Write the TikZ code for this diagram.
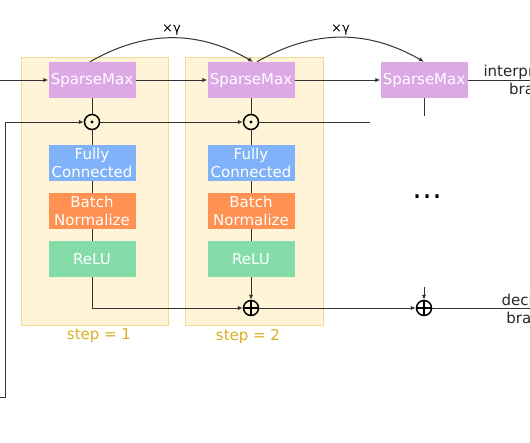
\documentclass[tikz,border=0pt]{standalone}
\usepackage{fontspec}
\setmainfont{DejaVu Sans}
\usepackage{tikz}
\usetikzlibrary{arrows.meta,backgrounds,positioning,fit}
\definecolor{sparsefill}{HTML}{DDA8E6}
\definecolor{fcfill}{HTML}{7FB2F8}
\definecolor{bnfill}{HTML}{FF9152}
\definecolor{relufill}{HTML}{84DDA9}
\definecolor{stepfill}{HTML}{FFF4D8}
\definecolor{stepdraw}{HTML}{F3DB95}
\definecolor{steptext}{HTML}{D9AE22}
\tikzset{block node/.style={rectangle, fill=#1, text=white, minimum width=87pt,
    minimum height=36pt, inner sep=0pt, align=center, font=\fontsize{15}{18}\selectfont}}
\tikzset{op node/.style={circle, draw=black, line width=1.5pt, minimum size=15pt, inner sep=0pt}}
\tikzset{prod node/.style={op node, path picture={\fill (path picture bounding box.center) circle (1.6pt);}}}
\tikzset{sum node/.style={op node, path picture={\draw [line width=1.5pt]
      (path picture bounding box.west) -- (path picture bounding box.east)
      (path picture bounding box.north) -- (path picture bounding box.south);}}}
\tikzset{regular edge/.style={draw=black!80, line width=1pt}}
\tikzset{signal edge/.style={regular edge, -{Latex[length=5pt,width=4.5pt]}}}
\tikzset{step area/.style={draw=stepdraw, fill=stepfill, line width=1pt, inner sep=0pt}}
\tikzset{comment/.style={text=steptext, font=\fontsize{15}{18}\selectfont}}
\tikzset{branch label/.style={align=center, text=black!85, font=\fontsize{15}{18}\selectfont}}
\tikzset{gain label/.style={font=\fontsize{13}{15}\selectfont, inner sep=2pt}}

\begin{document}
\begin{tikzpicture}
      [x=1pt, y=-1pt]
      \useasboundingbox (0,0) rectangle (530,442);

      \begin{scope}
        \node [block node=sparsefill] (sm1)   at (92,  80) {SparseMax};
        \node [prod node]             (dot1)  at (92, 122) {};
        \node [block node=fcfill]     (fc1)   at (92, 163) {Fully\\Connected};
        \node [block node=bnfill]     (bn1)   at (92, 211) {Batch\\Normalize};
        \node [block node=relufill]   (relu1) at (92, 259) {ReLU};
      \end{scope}

      \begin{scope}[xshift=159pt]
        \node [block node=sparsefill] (sm2)   at (92,  80) {SparseMax};
        \node [prod node]             (dot2)  at (92, 122) {};
        \node [block node=fcfill]     (fc2)   at (92, 163) {Fully\\Connected};
        \node [block node=bnfill]     (bn2)   at (92, 211) {Batch\\Normalize};
        \node [block node=relufill]   (relu2) at (92, 259) {ReLU};
        \node [sum node]              (sum2)  at (92, 308) {};
      \end{scope}

      \node [block node=sparsefill] (sm3)  at (424,  80) {SparseMax};
      \node [sum node]              (sum3) at (424, 308) {};
      \node [anchor=base, font=\fontsize{30}{32}\selectfont] (more) at (427, 198) {…};

      \coordinate (in1)     at (  0,  80);
      \coordinate (in2)     at (  0, 397);
      \coordinate (turn)    at (  5, 397);
      \coordinate (attnend) at (370, 122);
      \coordinate (sm3stub) at (424, 116);
      \coordinate (decin)   at (424, 287);
      \coordinate (intend)  at (530,  80);
      \coordinate (decend)  at (530, 308);

      \node [branch label, anchor=west] (interp)   at (480,  80) {interpretation\\branch};
      \node [branch label, anchor=west] (decision) at (498, 309) {decision\\branch};

      \draw [signal edge]  (in1) -- (sm1);
      \draw [signal edge]  (sm1) -- (sm2);
      \draw [signal edge]  (sm2) -- (sm3);
      \draw [regular edge] (sm3) -- (intend);
      \draw [signal edge]  ([xshift=-2pt]sm1.north) to [bend left=30] node [gain label, above] {×γ} ([xshift=2pt]sm2.north);
      \draw [signal edge]  ([xshift=6pt]sm2.north)  to [bend left=30] node [gain label, above] {×γ} (sm3.north);

      \draw [regular edge] (sm1) -- (dot1) -- (fc1) -- (bn1) -- (relu1);
      \draw [regular edge] (sm2) -- (dot2) -- (fc2) -- (bn2) -- (relu2);
      \draw [regular edge] (sm3) -- (sm3stub);
      \draw [signal edge]  (in2) -- (turn) |- (dot1);
      \draw [signal edge]  (dot1) -- (dot2);
      \draw [regular edge] (dot2) -- (attnend);

      \draw [signal edge]  (relu1) |- (sum2);
      \draw [signal edge]  (relu2) -- (sum2);
      \draw [signal edge]  (sum2) -- (sum3);
      \draw [signal edge]  (decin) -- (sum3);
      \draw [regular edge] (sum3) -- (decend);

      \begin{pgfonlayer}{background}
        \node (r1) [step area, fit={(21,57) (168,325)}] {};
        \node (r2) [step area, fit={(185,57) (323,325)}] {};
      \end{pgfonlayer}

      \node [comment] at ( 99, 336) {step = 1};
      \node [comment] at (248, 336) {step = 2};
    \end{tikzpicture}
\end{document}
